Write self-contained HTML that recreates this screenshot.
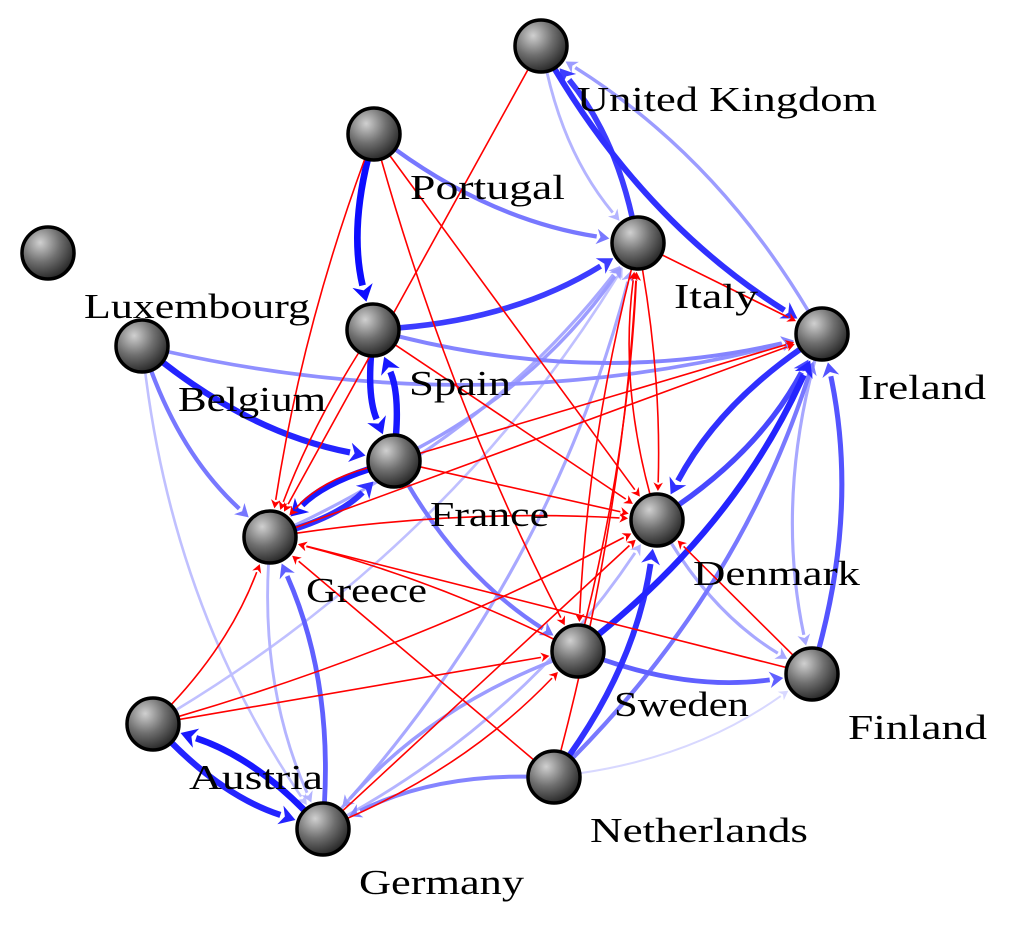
<!DOCTYPE html>
<html><head><meta charset="utf-8"><style>
html,body{margin:0;padding:0;background:#fff;}
svg{display:block;}
text{font-family:"Liberation Serif",serif;font-size:35px;fill:#000;}
</style></head><body>
<svg id="chart" width="1022" height="934" viewBox="0 0 1022 934" xmlns="http://www.w3.org/2000/svg">
<defs>
<radialGradient id="ng" cx="0.35" cy="0.3" r="0.75">
<stop offset="0" stop-color="#d0d0d0"/><stop offset="0.5" stop-color="#707070"/><stop offset="1" stop-color="#222"/>
</radialGradient>
</defs>
<g id="edges"></g>
<g id="nodes"></g>
</svg>
<script>
const nodeNames = ["United Kingdom","Portugal","Luxembourg","Italy","Belgium","Spain","Ireland","France","Greece","Denmark","Sweden","Finland","Austria","Netherlands","Germany"];
const nodeX = [541,374,48,638,142,373,822,394,270,657,578,812,153,554,323];
const nodeY = [46,134,253,243,346,330,334,461,537,520,651,674,724,777,829];
const labelLen = [300,155,226,84,148,102,128,119,121,167,135,139,134,218,165];
// blue edges: source, target, weight
const blueSrc = ["Portugal","Spain","France","Belgium","France","Greece","Austria","Germany","United Kingdom","Italy","Spain","Ireland","Denmark","Sweden","Netherlands","Finland","Sweden","Portugal","Belgium","Spain","Belgium","France","Germany","Netherlands","France","Germany","Greece","Sweden","Netherlands","Ireland","Ireland","United Kingdom","Austria","Germany","Sweden","Greece","Netherlands","Denmark","Belgium"];
const blueDst = ["Spain","France","Spain","France","Greece","France","Germany","Austria","Ireland","United Kingdom","Italy","Denmark","Ireland","Ireland","Denmark","Ireland","Finland","Italy","Greece","Ireland","Ireland","Sweden","Greece","Germany","Italy","Italy","Italy","Germany","Ireland","United Kingdom","Finland","Italy","Italy","Denmark","Germany","Germany","Finland","Finland","Germany"];
const blueW = [0.95,0.9,0.9,0.85,0.9,0.8,0.85,0.9,0.8,0.75,0.75,0.8,0.7,0.85,0.8,0.65,0.6,0.5,0.5,0.45,0.4,0.5,0.6,0.45,0.35,0.3,0.3,0.35,0.5,0.35,0.3,0.25,0.2,0.25,0.3,0.25,0.1,0.3,0.2];
// red edges
const redSrc = ["United Kingdom","Portugal","Portugal","Portugal","Spain","Spain","Italy","Italy","Italy","Denmark","France","France","France","Greece","Greece","Austria","Austria","Austria","Sweden","Germany","Germany","Netherlands","Netherlands","Finland","Finland","Sweden"];
const redDst = ["Greece","Greece","Sweden","Denmark","Greece","Denmark","Ireland","Denmark","Sweden","Italy","Ireland","Denmark","Greece","Ireland","Denmark","Greece","Sweden","Denmark","Greece","Sweden","Denmark","Greece","Italy","Greece","Denmark","Italy"];
const redBend = [0,0.05,0.05,0,0.05,0,0,-0.05,0.05,-0.1,0,0,0.15,0,-0.05,0.1,0,0.05,0.05,0.1,0,0,0.05,0,0,0.05];
</script>
<script>
const NS="http://www.w3.org/2000/svg";
const eg=document.getElementById('edges'), ng=document.getElementById('nodes');
const R=26;
function idx(n){return nodeNames.indexOf(n);}
function drawEdge(s,t,bend,color,w){
  const a=idx(s),b=idx(t);
  const x1=nodeX[a],y1=nodeY[a],x2=nodeX[b],y2=nodeY[b];
  const dx=x2-x1,dy=y2-y1;
  const cx=(x1+x2)/2-dy*bend, cy=(y1+y2)/2+dx*bend;
  let sx=cx-x1,sy=cy-y1,sl=Math.hypot(sx,sy);
  const px1=x1+sx/sl*R, py1=y1+sy/sl*R;
  let ex=x2-cx,ey=y2-cy,el=Math.hypot(ex,ey);
  const ux=ex/el,uy=ey/el;
  const tipx=x2-ux*(R+3), tipy=y2-uy*(R+3);
  const ah=6+w*1.6, aw=3+w*1.1;
  const bx=tipx-ux*ah, by=tipy-uy*ah;
  const p=document.createElementNS(NS,'path');
  p.setAttribute('d',`M${px1},${py1} Q${cx},${cy} ${bx},${by}`);
  p.setAttribute('fill','none');p.setAttribute('stroke',color);p.setAttribute('stroke-width',w);
  
  
  eg.appendChild(p);
  const h=document.createElementNS(NS,'polygon');
  h.setAttribute('points',`${tipx},${tipy} ${bx-uy*aw},${by+ux*aw} ${bx+ux*ah*0.3},${by+uy*ah*0.3} ${bx+uy*aw},${by-ux*aw}`);
  h.setAttribute('fill',color);
  
  
  eg.appendChild(h);
}
const order=blueW.map((w,i)=>i).sort((a,b)=>blueW[a]-blueW[b]);
order.forEach(i=>{
  const w=blueW[i];
  const c=Math.round(240*(1-w));
  drawEdge(blueSrc[i],blueDst[i],0.12,`rgb(${c},${c},255)`,1.5+w*5.5);
});
redSrc.forEach((s,i)=>drawEdge(s,redDst[i],redBend[i],'#ff0000',1.6));
nodeNames.forEach((n,i)=>{
  const c=document.createElementNS(NS,'circle');
  c.setAttribute('cx',nodeX[i]);c.setAttribute('cy',nodeY[i]);c.setAttribute('r',R);
  c.setAttribute('fill','url(#ng)');c.setAttribute('stroke','#000');c.setAttribute('stroke-width',3.5);
  
  
  ng.appendChild(c);
  const t=document.createElementNS(NS,'text');
  t.setAttribute('x',nodeX[i]+36);t.setAttribute('y',nodeY[i]+65);
  t.setAttribute('textLength',labelLen[i]);
  t.setAttribute('lengthAdjust','spacingAndGlyphs');
  t.textContent=n;
  
  
  ng.appendChild(t);
});
</script>
</body></html>
